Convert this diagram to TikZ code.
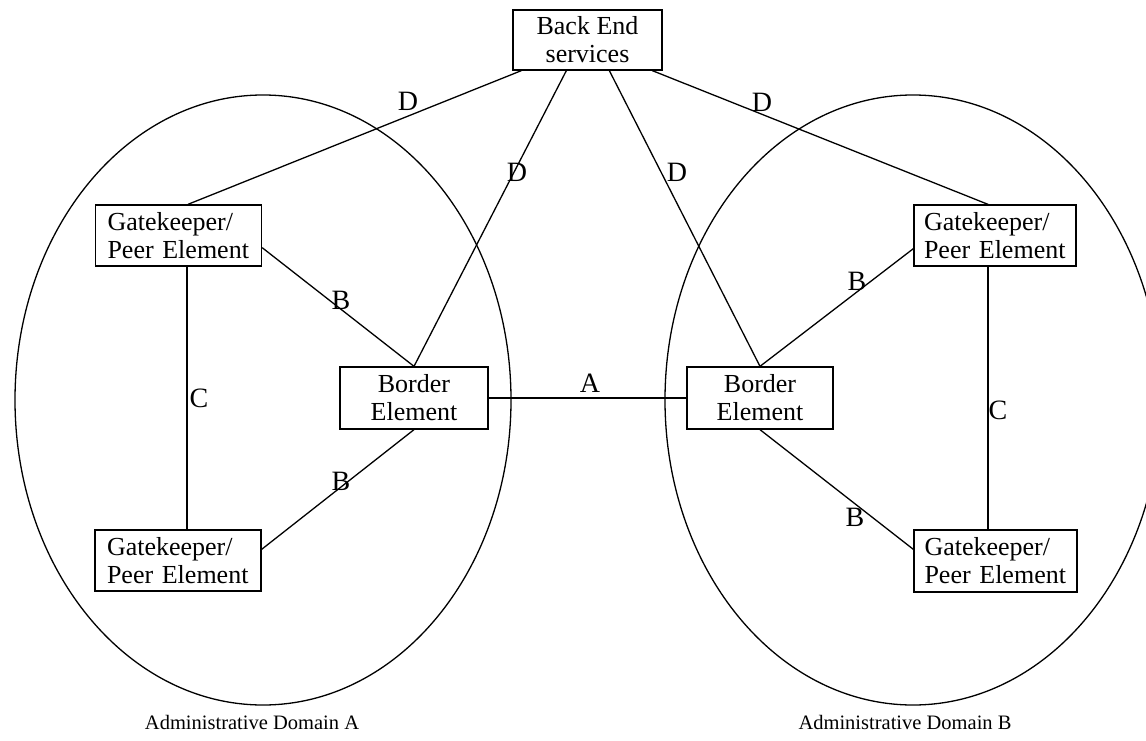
\documentclass[tikz,border=0pt]{standalone}
\usepackage{fontspec}
\setmainfont{Liberation Serif}
\usetikzlibrary{calc}
\begin{document}
\begin{tikzpicture}[x=1pt,y=-1pt, line width=1.3pt,
  box/.style={draw, line width=1.3pt, inner sep=0pt, font=\fontsize{26}{28}\selectfont},
  gkbox/.style={box, minimum width=166pt, minimum height=61pt, text width=142pt, align=left},
  bdbox/.style={box, minimum width=148pt, minimum height=62pt, align=center},
  lab/.style={font=\fontsize{28}{30}\selectfont, inner sep=0pt},
  dom/.style={font=\fontsize{20.5}{24}\selectfont, inner sep=0pt}]
\useasboundingbox (0,0) rectangle (1146,741);
% domains
\draw (263,400) ellipse [x radius=248pt, y radius=305pt];
\draw (913,400) ellipse [x radius=248pt, y radius=305pt];
% nodes
\node[box, minimum width=149pt, minimum height=60pt, align=center] (be) at (587.5,40) {Back End\\services};
\node[gkbox] (gk1) at (178.5,235.5) {Gatekeeper/\\Peer Element};
\node[gkbox] (gk2) at (178,560.5) {Gatekeeper/\\Peer Element};
\node[gkbox, minimum width=162pt] (gk3) at (995,235.5) {Gatekeeper/\\Peer Element};
\node[gkbox, minimum width=163pt, minimum height=62pt] (gk4) at (995.5,561) {Gatekeeper/\\Peer Element};
\node[bdbox] (bd1) at (414,398) {Border\\Element};
\node[bdbox, minimum width=146pt] (bd2) at (760,398) {Border\\Element};
% connectors
\draw ($(be.south west)+(9,0)$) -- ($(gk1.north)+(9.5,0)$);
\draw ($(be.south west)+(54,0)$) -- (bd1.north);
\draw ($(be.south west)+(97,0)$) -- (bd2.north);
\draw ($(be.south west)+(140,0)$) -- ($(gk3.north)+(-7,0)$);
\draw ($(gk1.south east)+(0,-19)$) -- (bd1.north);
\draw (bd1.south) -- ($(gk2.north east)+(0,20)$);
\draw ($(gk3.south west)+(0,-18)$) -- (bd2.north);
\draw (bd2.south) -- ($(gk4.north west)+(0,20)$);
\draw ($(gk1.south)+(8.5,0)$) -- ($(gk2.north)+(9,0)$);
\draw ($(gk3.south)+(-7,0)$) -- ($(gk4.north)+(-7.5,0)$);
\draw (bd1.east) -- (bd2.west);
% labels
\node[lab] (ld1) at (408,101) {D};
\node[lab] (ld2) at (517,172) {D};
\node[lab] (ld3) at (677,172) {D};
\node[lab] (ld4) at (762,102) {D};
\node[lab] (lb1) at (341,300) {B};
\node[lab] (lb2) at (341,481) {B};
\node[lab] (lb3) at (857,281) {B};
\node[lab] (lb4) at (855,517) {B};
\node[lab] (lc1) at (199,398) {C};
\node[lab] (lc2) at (998,410) {C};
\node[lab] (la) at (590,383) {A};
\node[dom] (da) at (252,722) {Administrative Domain A};
\node[dom] (db) at (905,722) {Administrative Domain B};
\end{tikzpicture}
\end{document}
